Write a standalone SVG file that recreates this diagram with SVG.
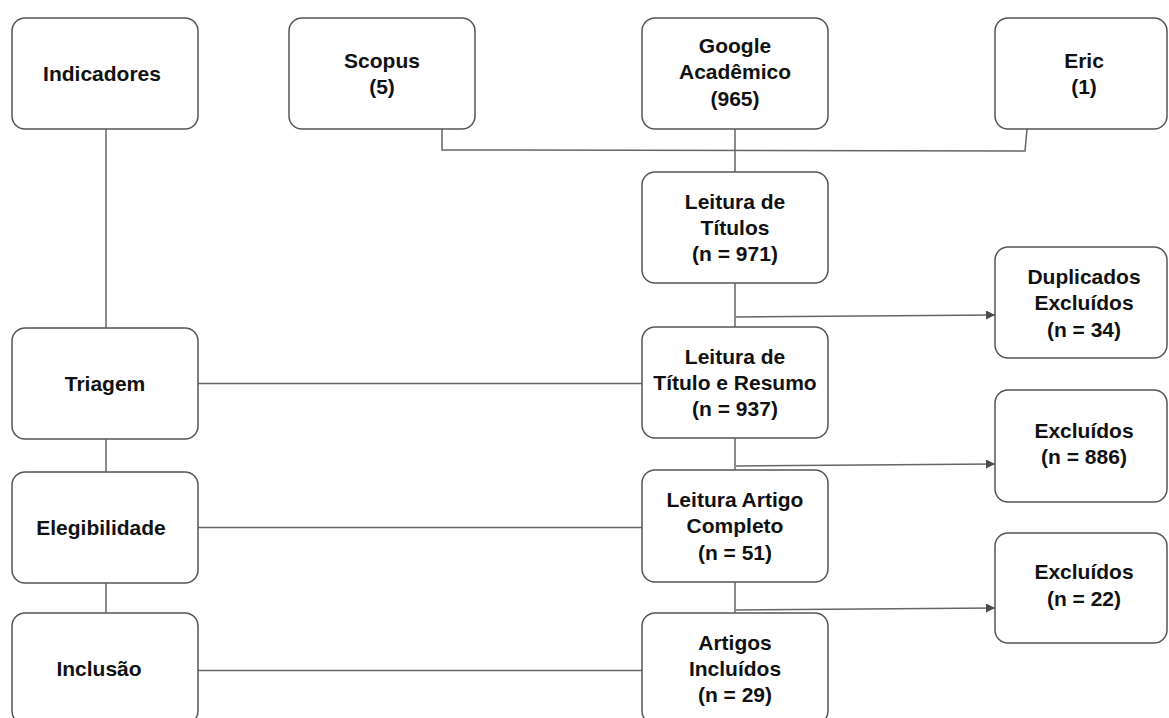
<svg xmlns="http://www.w3.org/2000/svg" width="1169" height="718" viewBox="0 0 1169 718">
<defs>
<marker id="arr" viewBox="0 0 10 10" refX="10" refY="5" markerWidth="11" markerHeight="9" markerUnits="userSpaceOnUse" orient="auto"><path d="M0,0 L10,5 L0,10 z" fill="#4a4a4a"/></marker>
<style>
.box{fill:#fff;stroke:#555;stroke-width:1.5}
.lbl{font-family:"Liberation Sans",Arial,sans-serif;font-weight:bold;font-size:21px;fill:#111;text-anchor:middle}
.conn{fill:none;stroke:#666;stroke-width:1.5}
</style>
</defs>
<rect width="1169" height="718" fill="#fff"/>
<g id="connectors">
<path class="conn" d="M106,129 V328"/>
<path class="conn" d="M106,439 V472"/>
<path class="conn" d="M106,583 V613"/>
<path class="conn" d="M198,383.5 H642"/>
<path class="conn" d="M198,527.5 H642"/>
<path class="conn" d="M198,670.5 H642"/>
<path class="conn" d="M442,129 L442,150 L1025,151 L1027,129"/>
<path class="conn" d="M735,129 V172"/>
<path class="conn" d="M735,283 V327"/>
<path class="conn" d="M735,438 V470"/>
<path class="conn" d="M735,582 V613"/>
<path class="conn" d="M736,317 L995,315" marker-end="url(#arr)"/>
<path class="conn" d="M736,466 L995,464" marker-end="url(#arr)"/>
<path class="conn" d="M736,610 L995,608" marker-end="url(#arr)"/>
</g>
<g id="indicadores"><rect class="box" x="12" y="18" width="186" height="111" rx="13"/><text class="lbl" x="102" y="81">Indicadores</text></g>
<g id="scopus"><rect class="box" x="289" y="18" width="186" height="111" rx="13"/><text class="lbl" x="382" y="67.5">Scopus</text><text class="lbl" x="382" y="94">(5)</text></g>
<g id="google"><rect class="box" x="642" y="18" width="186" height="111" rx="13"/><text class="lbl" x="735" y="53">Google</text><text class="lbl" x="735" y="79">Acadêmico</text><text class="lbl" x="735" y="105.5">(965)</text></g>
<g id="eric"><rect class="box" x="995" y="18" width="172" height="111" rx="13"/><text class="lbl" x="1084" y="67.5">Eric</text><text class="lbl" x="1084" y="94">(1)</text></g>
<g id="leitura-titulos"><rect class="box" x="642" y="172" width="186" height="111" rx="13"/><text class="lbl" x="735" y="208.5">Leitura de</text><text class="lbl" x="735" y="234.5">Títulos</text><text class="lbl" x="735" y="261">(n = 971)</text></g>
<g id="duplicados"><rect class="box" x="995" y="247" width="172" height="111" rx="13"/><text class="lbl" x="1084" y="284">Duplicados</text><text class="lbl" x="1084" y="310">Excluídos</text><text class="lbl" x="1084" y="336.5">(n = 34)</text></g>
<g id="titulo-resumo"><rect class="box" x="642" y="327" width="186" height="111" rx="13"/><text class="lbl" x="735" y="363.5">Leitura de</text><text class="lbl" x="735" y="389.5">Título e Resumo</text><text class="lbl" x="735" y="416">(n = 937)</text></g>
<g id="triagem"><rect class="box" x="12" y="328" width="186" height="111" rx="13"/><text class="lbl" x="105" y="391">Triagem</text></g>
<g id="excluidos-886"><rect class="box" x="995" y="390" width="172" height="112" rx="13"/><text class="lbl" x="1084" y="438">Excluídos</text><text class="lbl" x="1084" y="463.5">(n = 886)</text></g>
<g id="artigo-completo"><rect class="box" x="642" y="470" width="186" height="112" rx="13"/><text class="lbl" x="735" y="507">Leitura Artigo</text><text class="lbl" x="735" y="533">Completo</text><text class="lbl" x="735" y="559.5">(n = 51)</text></g>
<g id="elegibilidade"><rect class="box" x="12" y="472" width="186" height="111" rx="13"/><text class="lbl" x="101" y="535">Elegibilidade</text></g>
<g id="excluidos-22"><rect class="box" x="995" y="533" width="172" height="110" rx="13"/><text class="lbl" x="1084" y="579">Excluídos</text><text class="lbl" x="1084" y="605.5">(n = 22)</text></g>
<g id="artigos-incluidos"><rect class="box" x="642" y="613" width="186" height="111" rx="13"/><text class="lbl" x="735" y="649.5">Artigos</text><text class="lbl" x="735" y="675.5">Incluídos</text><text class="lbl" x="735" y="702">(n = 29)</text></g>
<g id="inclusao"><rect class="box" x="12" y="613" width="186" height="111" rx="13"/><text class="lbl" x="99" y="676">Inclusão</text></g>
</svg>
